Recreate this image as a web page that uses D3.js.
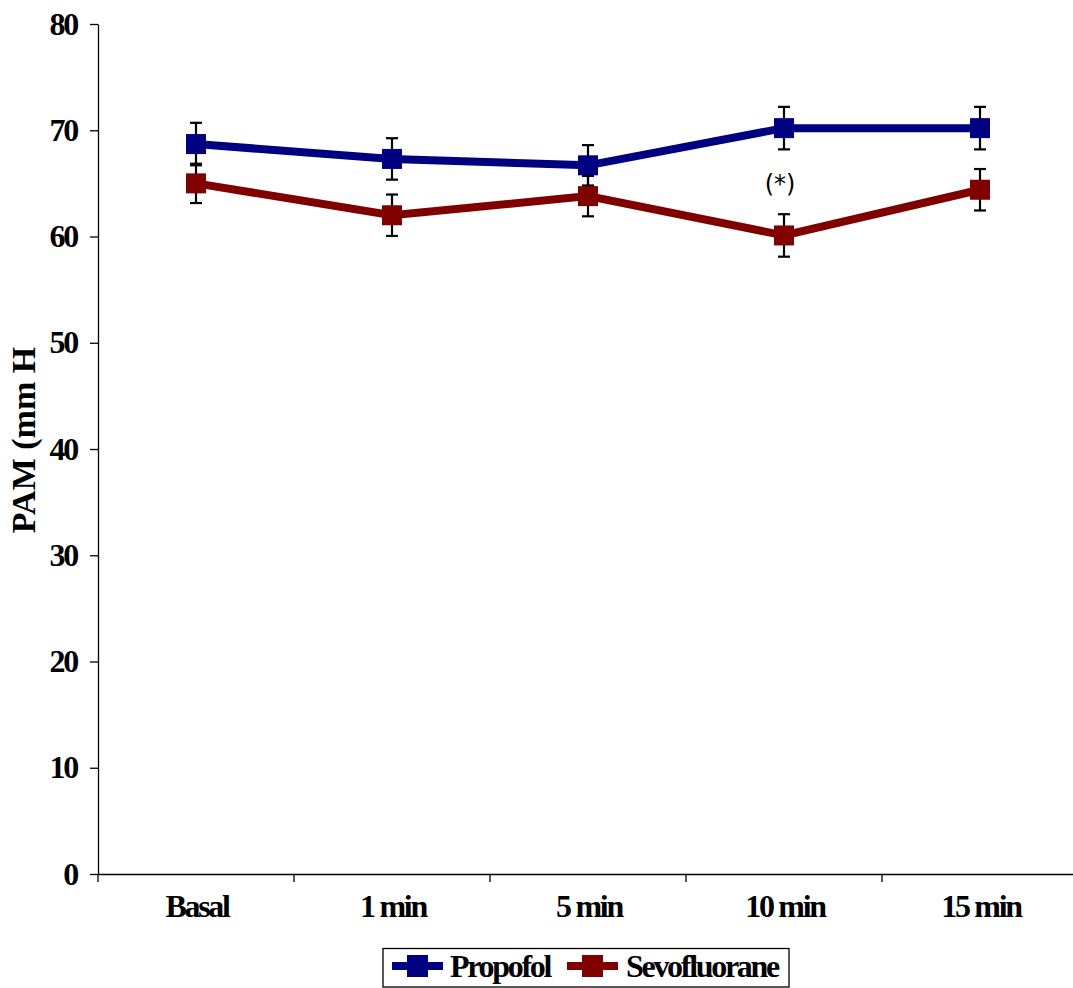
<!DOCTYPE html>
<html><head><meta charset="utf-8">
<script src="https://cdn.jsdelivr.net/npm/d3@7"></script>
<style>body{margin:0;background:#fff}svg{display:block}</style>
</head><body>
<svg id="c" width="1073" height="988"></svg>
<script>
const categories = ["Basal", "1 min", "5 min", "10 min", "15 min"];
const propofol = [68.7, 67.3, 66.7, 70.2, 70.2];
const propofolErr = [2.0, 1.95, 1.9, 2.0, 2.0];
const sevofluorane = [65.0, 62.0, 63.8, 60.1, 64.4];
const sevofluoraneErr = [1.85, 1.95, 1.9, 2.0, 1.95];
const yTicks = [0, 10, 20, 30, 40, 50, 60, 70, 80];
const seriesNames = ["Propofol", "Sevofluorane"];
const seriesColors = ["#000080", "#800000"];
const annotation = {cat: "10 min", value: 64.2, text: "(*)"};

const svg = d3.select("#c");
const x = d3.scaleBand().domain(categories).range([98, 1078]);
const y = d3.scaleLinear().domain([0, 80]).range([874, 24]);

const serif = "'Liberation Serif','Times New Roman',serif";
const LS = -2.3;

// Y axis
const yAxis = svg.append("g").attr("transform", "translate(98,0)")
  .call(d3.axisLeft(y).tickValues(yTicks).tickSize(8).tickSizeOuter(0));
yAxis.select(".domain").attr("stroke", "#000").attr("stroke-width", 1.3);
yAxis.selectAll(".tick line").attr("stroke", "#000").attr("stroke-width", 1.3);
yAxis.selectAll(".tick text").attr("font-family", serif).attr("font-weight", "bold")
  .attr("font-size", 32).attr("letter-spacing", LS).attr("fill", "#000")
  .attr("x", -21).attr("dy", null).attr("y", 10);

// X axis
const xAxis = svg.append("g").attr("transform", "translate(0,874)")
  .call(d3.axisBottom(x).tickSize(0).tickSizeOuter(0));
xAxis.select(".domain").attr("stroke", "#000").attr("stroke-width", 1.3);
xAxis.selectAll(".tick text").attr("font-family", serif).attr("font-weight", "bold")
  .attr("font-size", 32).attr("letter-spacing", LS).attr("fill", "#000")
  .attr("dy", null).attr("y", 43).attr("x", 1);
// boundary ticks between categories
const bounds = categories.map(c => x(c)).concat([x.range()[1]]);
svg.append("g").selectAll("line").data(bounds).join("line")
  .attr("x1", d => d).attr("x2", d => d).attr("y1", 874).attr("y2", 882)
  .attr("stroke", "#000").attr("stroke-width", 1.3);

// Y label
svg.append("text").attr("transform", "translate(35,440) rotate(-90)")
  .attr("text-anchor", "middle").attr("font-family", serif).attr("font-weight", "bold")
  .attr("font-size", 34).text("PAM (mm H");

const cx = c => x(c) + x.bandwidth() / 2;
const series = [
  {name: seriesNames[0], vals: propofol, err: propofolErr, color: seriesColors[0]},
  {name: seriesNames[1], vals: sevofluorane, err: sevofluoraneErr, color: seriesColors[1]}
];

// Error bars
series.forEach(s => {
  const g = svg.append("g").attr("stroke", "#000").attr("stroke-width", 2.2);
  categories.forEach((c, i) => {
    const hi = y(s.vals[i] + s.err[i]), lo = y(s.vals[i] - s.err[i]);
    g.append("line").attr("x1", cx(c)).attr("x2", cx(c)).attr("y1", hi).attr("y2", lo);
    g.append("line").attr("x1", cx(c) - 6).attr("x2", cx(c) + 6).attr("y1", hi).attr("y2", hi);
    g.append("line").attr("x1", cx(c) - 6).attr("x2", cx(c) + 6).attr("y1", lo).attr("y2", lo);
  });
});

// Lines + markers
const line = d3.line().x((d, i) => cx(categories[i])).y(d => y(d));
series.forEach(s => {
  svg.append("path").datum(s.vals).attr("d", line).attr("fill", "none")
    .attr("stroke", s.color).attr("stroke-width", 8);
});
series.forEach(s => {
  svg.append("g").selectAll("rect").data(s.vals).join("rect")
    .attr("x", (d, i) => cx(categories[i]) - 10).attr("y", d => y(d) - 10)
    .attr("width", 20).attr("height", 20).attr("fill", s.color);
});

// annotation
svg.append("text").attr("x", cx(annotation.cat) - 4).attr("y", y(annotation.value))
  .attr("text-anchor", "middle").attr("font-family", "'DejaVu Sans',sans-serif")
  .attr("font-size", 24).text(annotation.text);

// Legend
const lg = svg.append("g");
lg.append("rect").attr("x", 383).attr("y", 948.5).attr("width", 406).attr("height", 38.5)
  .attr("fill", "#fff").attr("stroke", "#000").attr("stroke-width", 1.3);
const legItems = [{x: 392, tx: 450}, {x: 567, tx: 626}];
series.forEach((s, i) => {
  const it = legItems[i];
  lg.append("line").attr("x1", it.x).attr("x2", it.x + 51).attr("y1", 966).attr("y2", 966)
    .attr("stroke", s.color).attr("stroke-width", 8);
  lg.append("rect").attr("x", it.x + 15).attr("y", 955).attr("width", 21).attr("height", 22).attr("fill", s.color);
  lg.append("text").attr("x", it.tx).attr("y", 977).attr("font-family", serif).attr("font-weight", "bold")
    .attr("font-size", 32).attr("letter-spacing", LS).text(s.name);
});
</script>
</body></html>
